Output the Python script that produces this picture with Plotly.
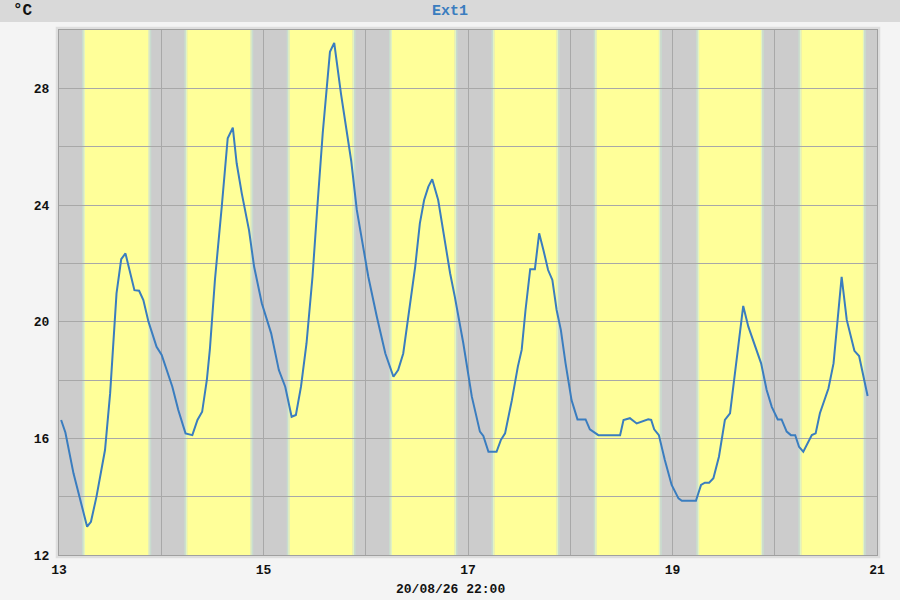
import plotly.graph_objects as go

# hours since 13th 00:00 and temperature (°C)
hours = [0.5, 1.5, 3.4, 4.9, 5.9, 6.6, 7.5, 8.8, 10.8, 12.0, 13.5, 14.6, 15.6, 16.6, 17.7, 18.8,
         19.8, 21.0, 22.9, 24.1, 26.6, 28.0, 29.7, 31.3, 32.5, 33.6, 34.7, 35.4, 36.6, 38.2, 39.6,
         40.8, 41.7, 42.9, 44.6, 45.8, 47.6, 49.8, 51.6, 53.1, 54.6, 55.6, 56.8, 58.1, 59.5, 60.7,
         61.9, 63.6, 64.6, 66.2, 67.6, 68.6, 69.9, 70.7, 72.6, 74.6, 76.6, 78.5, 79.6, 80.8, 82.0,
         83.6, 84.7, 85.7, 86.7, 87.6, 89.0, 90.2, 91.8, 92.9, 94.9, 96.9, 98.0, 98.8, 99.6, 100.8,
         102.7, 103.7, 104.7, 106.3, 107.7, 108.6, 109.5, 110.6, 111.7, 112.7, 113.7, 114.8, 115.8,
         116.8, 117.8, 118.9, 120.3, 121.7, 123.6, 124.6, 126.6, 131.7, 132.5, 134.0, 135.6, 138.3,
         139.0, 139.7, 140.8, 142.2, 143.8, 145.4, 146.2, 149.5, 150.7, 151.6, 152.6, 153.6, 154.9,
         156.3, 157.5, 158.5, 159.6, 160.6, 161.8, 163.4, 164.8, 166.1, 167.3, 168.7, 169.6, 170.8,
         171.8, 172.8, 173.7, 174.7, 176.7, 177.6, 178.6, 180.6, 181.8, 183.7, 184.9, 186.7, 187.8,
         189.8]
temps = [16.63, 16.2, 14.8, 13.9, 13.3, 12.97, 13.14, 14.0, 15.6, 17.54, 20.97, 22.14, 22.34, 21.7,
         21.08, 21.06, 20.74, 20.0, 19.14, 18.86, 17.77, 16.97, 16.17, 16.11, 16.63, 16.91, 18.0,
         19.03, 21.43, 23.94, 26.29, 26.65, 25.43, 24.4, 23.14, 21.88, 20.63, 19.6, 18.34, 17.77,
         16.74, 16.8, 17.77, 19.26, 21.54, 24.06, 26.46, 29.25, 29.56, 27.8, 26.5, 25.5, 23.83,
         23.14, 21.54, 20.17, 18.91, 18.11, 18.34, 18.91, 20.17, 21.88, 23.37, 24.17, 24.63, 24.88,
         24.17, 23.03, 21.66, 20.86, 19.26, 17.43, 16.7, 16.23, 16.08, 15.54, 15.54, 15.94, 16.17,
         17.31, 18.46, 19.03, 20.4, 21.8, 21.8, 23.03, 22.46, 21.77, 21.43, 20.4, 19.71, 18.57,
         17.31, 16.65, 16.65, 16.31, 16.11, 16.11, 16.63, 16.69, 16.51, 16.65, 16.63, 16.31, 16.11,
         15.26, 14.4, 13.94, 13.86, 13.86, 14.4, 14.48, 14.48, 14.63, 15.37, 16.63, 16.86, 18.0,
         19.37, 20.54, 19.83, 19.14, 18.57, 17.66, 17.08, 16.65, 16.65, 16.23, 16.11, 16.11, 15.71,
         15.54, 16.11, 16.17, 16.86, 17.71, 18.57, 21.54, 20.06, 19.0, 18.82, 17.45]

days = [13, 14, 15, 16, 17, 18, 19, 20]
sunrise = [6.1, 6.1, 6.15, 6.15, 6.2, 6.2, 6.25, 6.25]
sunset = [20.95, 20.9, 20.9, 20.85, 20.8, 20.8, 20.75, 20.7]

x_ticks = [13, 15, 17, 19, 21]
y_ticks = [12, 16, 20, 24, 28]

x = [13 + h / 24 for h in hours]

shapes = []
# light halo around the plot frame, then the night grey
shapes.append(dict(type="rect", xref="paper", yref="paper", x0=-0.004, x1=1.004, y0=-0.006, y1=1.006,
                   fillcolor="#dedede", line=dict(width=0), layer="below"))
shapes.append(dict(type="rect", xref="paper", yref="paper", x0=0, x1=1, y0=0, y1=1,
                   fillcolor="#cccccc", line=dict(width=0), layer="below"))
# grey title strip
shapes.append(dict(type="rect", xref="paper", yref="paper", x0=-0.08, x1=1.03, y0=1.0152, y1=1.06,
                   fillcolor="#d9d9d9", line=dict(width=0), layer="below"))
# daylight bands with soft edges
edge = 0.35 / 24
for d, sr, ss in zip(days, sunrise, sunset):
    a = d + sr / 24
    b = d + ss / 24
    for x0, x1, col in [(a - 2 * edge, a - edge, "#c9dccf"), (a - edge, a, "#e2f4c2"),
                        (b, b + edge, "#e2f4c2"), (b + edge, b + 2 * edge, "#c9dccf")]:
        shapes.append(dict(type="rect", xref="x", yref="paper", x0=x0, x1=x1, y0=0, y1=1,
                           fillcolor=col, line=dict(width=0), layer="below"))
    shapes.append(dict(type="rect", xref="x", yref="paper", x0=a, x1=b, y0=0, y1=1,
                       fillcolor="#ffff99", line=dict(width=0), layer="below"))

fig = go.Figure()
fig.add_trace(go.Scatter(x=x, y=temps, mode="lines", line=dict(color="#3a7dbf", width=2),
                         hoverinfo="x+y", showlegend=False))

tickfont = dict(family="Liberation Mono", size=13, color="#111111", weight="bold")
fig.update_layout(
    width=900, height=600,
    margin=dict(l=59, r=23, t=30, b=45),
    paper_bgcolor="#f4f4f4",
    plot_bgcolor="rgba(0,0,0,0)",
    shapes=shapes,
    xaxis=dict(range=[13, 21], tickvals=x_ticks, ticktext=[str(v) for v in x_ticks],
               showgrid=True, gridcolor="#a8a8a8", gridwidth=1,
               minor=dict(dtick=1, tick0=13, showgrid=True, gridcolor="#a8a8a8", gridwidth=1),
               zeroline=False, showline=True, linecolor="#a0a0a0", linewidth=1, mirror=True,
               tickfont=tickfont, ticks="", ticklabelstandoff=2),
    yaxis=dict(range=[12, 30], tickvals=y_ticks, ticktext=[str(v) for v in y_ticks],
               showgrid=True, gridcolor="#a8a8a8", gridwidth=1,
               minor=dict(dtick=2, tick0=12, showgrid=True, gridcolor="#a8a8a8", gridwidth=1),
               zeroline=False, showline=True, linecolor="#a0a0a0", linewidth=1, mirror=True,
               tickfont=tickfont, ticks="", ticklabelstandoff=6),
    annotations=[
        dict(text="°C", xref="paper", yref="paper", x=-0.059, y=1.036, xanchor="left", yanchor="middle",
             showarrow=False, font=dict(family="Liberation Mono", size=16, color="#111111", weight="bold")),
        dict(text="Ext1", xref="paper", yref="paper", x=0.478, y=1.036, xanchor="center", yanchor="middle",
             showarrow=False, font=dict(family="Liberation Mono", size=15, color="#3a7dbf", weight="bold")),
        dict(text="20/08/26 22:00", xref="paper", yref="paper", x=0.478, y=-0.065, xanchor="center",
             yanchor="middle", showarrow=False, font=tickfont),
    ],
)

fig.write_html("out.html", config={"displayModeBar": False},
               post_script="document.body.style.margin='0';")
